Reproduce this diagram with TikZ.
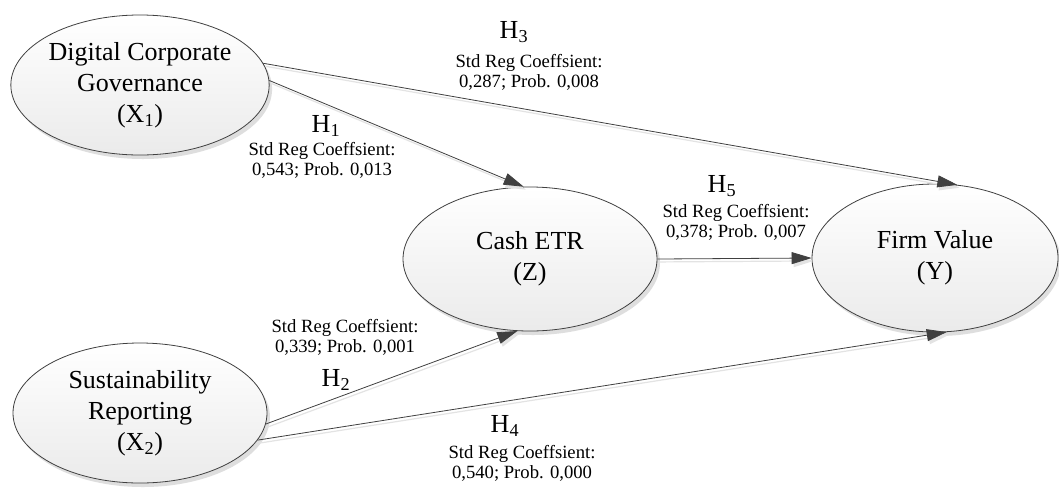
\documentclass[tikz,border=0pt]{standalone}
\usepackage{fontspec}
\setmainfont{Liberation Serif}
\usetikzlibrary{arrows.meta,shapes.geometric,shadows}
\tikzset{
  var/.style={ellipse, draw=black!75, line width=0.6pt, top color=white, bottom color=black!8,
    inner sep=0pt, align=center, font=\fontsize{19.5}{23.25}\selectfont,
    drop shadow={shadow xshift=2.2pt, shadow yshift=-3pt, fill=black!13, opacity=1}},
  link/.style={draw=black!75, line width=0.6pt, -{Triangle[length=15pt,width=9pt]}},
  linkshadow/.style={draw=black!11, line width=0.9pt, -{Triangle[length=15pt,width=9pt]},
    transform canvas={xshift=1.5pt,yshift=-2.2pt}},
  hlab/.style={font=\fontsize{19.5}{22}\selectfont, inner sep=0pt},
  coef/.style={font=\fontsize{14}{15}\selectfont, align=center, inner sep=0pt}
}
\begin{document}
\begin{tikzpicture}[x=0.75pt,y=-0.75pt]
\path[use as bounding box, fill=white] (0,0) rectangle (1059,490);

\node[var, minimum width=190.5pt, minimum height=105pt] (X1) at (140,85) {Digital Corporate\\Governance\\(X\textsubscript{1})};
\node[var, minimum width=190.5pt, minimum height=105pt] (X2) at (140,413) {Sustainability\\Reporting\\(X\textsubscript{2})};
\node[var, minimum width=190.5pt, minimum height=108pt] (Z) at (530,259) {Cash ETR\\(Z)};
\node[var, minimum width=184.5pt, minimum height=111pt] (Y) at (935,258) {Firm Value\\(Y)};

% connector shadows
\draw[linkshadow] (X1.10) -- (Y.73);
\draw[linkshadow] (X1.2) -- (Z.95);
\draw[linkshadow] (Z.east) -- (Y.west);
\draw[linkshadow] (X2.-5) -- (Z.-100);
\draw[linkshadow] (X2.-13) -- (Y.-81);

% connectors
\draw[link] (X1.10) -- (Y.73);
\draw[link] (X1.2) -- (Z.95);
\draw[link] (Z.east) -- (Y.west);
\draw[link] (X2.-5) -- (Z.-100);
\draw[link] (X2.-13) -- (Y.-81);

% labels
\node[hlab] (h3) at (514,32) {H\textsubscript{3}};
\node[coef] (c3) at (529,72) {Std Reg Coeffsient:\\0,287; Prob. 0,008};
\node[hlab] (h1) at (326,126) {H\textsubscript{1}};
\node[coef] (c1) at (322,160) {Std Reg Coeffsient:\\0,543; Prob. 0,013};
\node[hlab] (h5) at (722,186) {H\textsubscript{5}};
\node[coef] (c5) at (736,222) {Std Reg Coeffsient:\\0,378; Prob. 0,007};
\node[hlab] (h2) at (336,380) {H\textsubscript{2}};
\node[coef] (c2) at (345,337) {Std Reg Coeffsient:\\0,339; Prob. 0,001};
\node[hlab] (h4) at (505,426) {H\textsubscript{4}};
\node[coef] (c4) at (522,463) {Std Reg Coeffsient:\\0,540; Prob. 0,000};
\end{tikzpicture}
\end{document}
